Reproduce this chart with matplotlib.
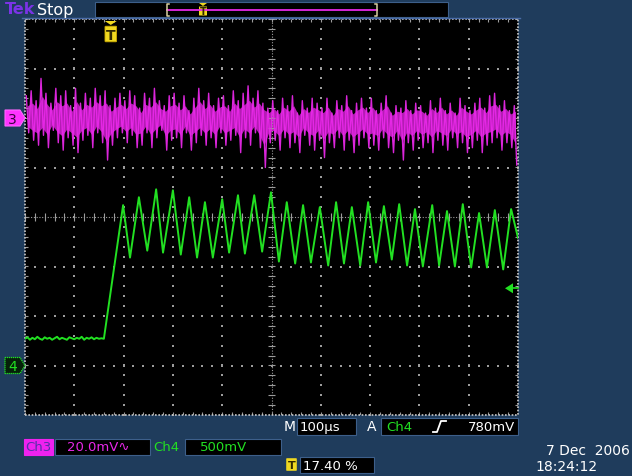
import numpy as np
import matplotlib.pyplot as plt
from matplotlib.patches import Rectangle, Polygon, FancyBboxPatch
from matplotlib.collections import LineCollection

# --- values ---
# time in us (100 us/div), Ch3 in mV (20 mV/div), Ch4 in V (500 mV/div)
ch3_t = np.arange(5, 1000, 10)
ch3_hi = [9, 11, 7, 16, 10, 6, 12, 9, 11, 5,
          12, 6, 10, 8, 12, 9, 11, 5, 8, 10,
          7, 11, 9, 4, 10, 8, 12, 7, 5, 9,
          10, 6, 9, 3, 8, 12, 7, 10, 5, 8,
          9, 5, 11, 7, 10, 13, 8, 11, 6, 4,
          7, 3, 8, 5, 9, 2, 7, 4, 8, 6,
          4, 8, 2, 7, 5, 9, 3, 6, 8, 4,
          8, 3, 6, 9, 2, 5, 4, 7, 3, 6,
          5, 2, 7, 4, 8, 3, 6, 2, 8, 5,
          3, 6, 8, 4, 9, 10, 5, 7, 3, 5]
ch3_lo = [-6, -9, -11, -7, -12, -5, -10, -13, -8, -11,
          -14, -9, -7, -12, -6, -10, -17, -11, -8, -6,
          -10, -7, -12, -11, -6, -12, -8, -5, -13, -9,
          -8, -12, -6, -13, -10, -7, -11, -8, -12, -6,
          -11, -9, -7, -14, -8, -11, -6, -12, -20, -10,
          -9, -13, -8, -12, -10, -14, -7, -11, -13, -9,
          -16, -10, -12, -8, -13, -9, -14, -11, -8, -12,
          -11, -13, -8, -12, -14, -9, -17, -10, -13, -9,
          -12, -10, -14, -9, -11, -13, -8, -12, -10, -14,
          -12, -9, -14, -11, -10, -8, -13, -10, -12, -19]

base_t = np.arange(0, 161, 5)
base_v = [0.27, 0.285, 0.26, 0.28, 0.265, 0.29, 0.27, 0.26, 0.285, 0.27,
          0.28, 0.26, 0.275, 0.29, 0.265, 0.28, 0.27, 0.26, 0.285, 0.275,
          0.265, 0.28, 0.27, 0.29, 0.26, 0.28, 0.27, 0.285, 0.265, 0.28,
          0.27, 0.275, 0.27]
peak_t = [199, 231, 266, 300, 333, 365, 400, 432, 465, 499, 531, 564, 598,
          631, 663, 696, 728, 759, 791, 826, 856, 888, 921, 953, 986]
peak_v = [1.62, 1.70, 1.78, 1.77, 1.70, 1.65, 1.68, 1.72, 1.72, 1.75, 1.65,
          1.62, 1.60, 1.65, 1.60, 1.65, 1.61, 1.63, 1.58, 1.62, 1.56, 1.63,
          1.54, 1.57, 1.58]
trough_t = [213, 248, 280, 316, 349, 381, 414, 446, 481, 515, 548, 580, 615,
            647, 680, 712, 744, 775, 807, 840, 872, 905, 937, 970, 1000]
trough_v = [1.09, 1.16, 1.14, 1.12, 1.09, 1.09, 1.14, 1.13, 1.15, 1.05, 1.03,
            1.04, 1.01, 1.03, 1.01, 1.04, 1.07, 1.01, 1.00, 1.01, 1.00, 0.99,
            0.99, 0.97, 1.29]

ch3_pos, ch3_scale = 2.0, 20.0     # div, mV/div
ch4_pos, ch4_scale = -3.0, 0.5     # div, V/div
trig_t, trig_level = 174.0, 0.78

BG = '#1f3c5c'
GRAY = '#9c9c9c'
MAG = '#e828e8'
GRN = '#22e022'

fig = plt.figure(figsize=(6.32, 4.77), dpi=100, facecolor=BG)

# screen: 25..518 px wide, 20..416 px high
L, T, W, H = 25, 20, 493, 396
ax = fig.add_axes([L / 632, 1 - (T + H) / 477, W / 632, H / 477])
ax.set_facecolor('black')
ax.set_xlim(0, 1000)
ax.set_ylim(-4, 4)
ax.set_xticks([])
ax.set_yticks([])
for s in ax.spines.values():
    s.set_visible(False)

# graticule
for k in range(1, 10):
    if k != 5:
        yy = np.arange(-4, 4.01, 0.2)
        ax.scatter(np.full(yy.size, 100 * k), yy, s=1.3, c=GRAY, marker='s', lw=0)
for j in range(-3, 4):
    if j != 0:
        xx = np.arange(0, 1001, 20)
        ax.scatter(xx, np.full(xx.size, j), s=1.3, c=GRAY, marker='s', lw=0)
ax.axvline(500, color=GRAY, lw=0.8, ls=(0, (1, 1.5)))
ax.axhline(0, color=GRAY, lw=0.8, ls=(0, (1, 1.5)))
segs = []
for y in np.arange(-4, 4.01, 0.2):
    segs.append([(492, y), (508, y)])
    segs.append([(0, y), (6, y)])
    segs.append([(994, y), (1000, y)])
for x in np.arange(0, 1001, 20):
    segs.append([(x, -0.08), (x, 0.08)])
    segs.append([(x, 4), (x, 3.94)])
    segs.append([(x, -4), (x, -3.94)])
ax.add_collection(LineCollection(segs, colors=GRAY, lw=0.8))
ax.plot([0, 1000, 1000, 0, 0], [-4, -4, 4, 4, -4], color='#c8c8c8', lw=1.2,
        ls=(0, (1, 1)), clip_on=False)

# Ch3 noise band: filled between highs and lows, zigzag on top
hi_div = [ch3_pos + v / ch3_scale for v in ch3_hi]
lo_div = [ch3_pos + v / ch3_scale for v in ch3_lo]
ax.fill_between(ch3_t, [0.55 * h + 0.45 * ch3_pos for h in hi_div],
                [0.55 * l + 0.45 * ch3_pos for l in lo_div],
                color='#b41cb4', lw=0)
zx, zy = [], []
for t, hi, lo in zip(ch3_t, hi_div, lo_div):
    zx += [t - 2.5, t + 2.5]
    zy += [hi, lo]
ax.plot(zx, zy, color=MAG, lw=1.0, alpha=0.95)

# Ch4 trace
osc = sorted(zip(list(peak_t) + list(trough_t), list(peak_v) + list(trough_v)))
c4t = list(base_t) + [p[0] for p in osc]
c4v = list(base_v) + [p[1] for p in osc]
ax.plot(c4t, [ch4_pos + v / ch4_scale for v in c4v], color=GRN, lw=1.4)


def py(div):
    return T + (4 - div) * H / 8


def px(t):
    return L + t / 1000 * W


# overlay in pixel coordinates
ov = fig.add_axes([0, 0, 1, 1])
ov.set_xlim(0, 632)
ov.set_ylim(477, 0)
ov.axis('off')


def box(x, y, w, h, fc='black', ec='#3d5f8a'):
    ov.add_patch(Rectangle((x, y), w, h, fc=fc, ec=ec, lw=0.8))


def txt(x, y, s, c='white', size=9.5, ha='left', **kw):
    ov.text(x, y, s, color=c, fontsize=size, ha=ha, va='center', **kw)


# top bar
txt(5, 10, 'Tek', c='#7b33e6', size=11.5, weight='bold')
txt(37, 10, 'Stop', size=11.5)
box(95, 3, 353, 15)
ov.plot([167, 377], [11, 11], color=MAG, lw=1.3)
ov.plot([169, 167, 167, 169], [5, 5, 17, 17], color='#d8d0a0', lw=1.1)
ov.plot([375, 377, 377, 375], [5, 5, 17, 17], color='#d8d0a0', lw=1.1)
ov.add_patch(Polygon([(199, 4), (207, 4), (203, 7)], fc='#f0d820', ec='none'))
ov.add_patch(FancyBboxPatch((199.5, 8), 7, 8, boxstyle='round,pad=0.5', fc='#f0d820', ec='none'))
txt(203, 12.3, 'T', c='#302800', size=7, ha='center', weight='bold')
ov.plot([22, 520], [19, 19], color='#4a6ca8', lw=1)

# trigger position marker
tx = px(trig_t)
ov.add_patch(Polygon([(tx - 6, 22), (tx + 6, 22), (tx, 26)], fc='#f0d820', ec='none'))
ov.add_patch(FancyBboxPatch((tx - 5, 28), 10, 14, boxstyle='round,pad=0.8', fc='#f0d820', ec='#c8a800', lw=0.6))
txt(tx, 35.5, 'T', c='#302800', size=10, ha='center', weight='bold')

# channel ground markers
y3 = py(ch3_pos)
ov.add_patch(Polygon([(5, y3 - 8), (20, y3 - 8), (25, y3), (20, y3 + 8), (5, y3 + 8)],
                     fc='#ff33ff', ec='#ff66ff', lw=0.8))
txt(12.5, y3 + 0.5, '3', c='#3a0040', size=10, ha='center')
y4 = py(ch4_pos)
ov.add_patch(Polygon([(5, y4 - 8), (20, y4 - 8), (25, y4), (20, y4 + 8), (5, y4 + 8)],
                     fc='#06200a', ec=GRN, lw=0.9, ls=(0, (1, 0.6))))
txt(12.5, y4 + 0.5, '4', c=GRN, size=10, ha='center')

# trigger level arrow
yt = py(ch4_pos + trig_level / ch4_scale)
ov.add_patch(Polygon([(505, yt), (513, yt - 5), (513, yt + 5)], fc=GRN, ec='none'))
ov.plot([513, 518], [yt, yt], color=GRN, lw=1.2)

# bottom readouts
txt(284, 427.5, 'M', size=10)
box(297, 419, 59, 17)
txt(300, 427.5, '100µs')
txt(367, 427.5, 'A', size=10)
box(381, 419, 137, 17)
txt(386, 427.5, 'Ch4', c=GRN)
ov.plot([433, 437, 441, 446], [433, 433, 422, 422], color='white', lw=1.3)
txt(515, 427.5, '780mV', ha='right')

box(24, 440, 29, 16, fc='#ee22ee', ec='#ee22ee')
txt(25, 448, 'Ch3', c='#5530a8')
box(55, 440, 95, 16)
txt(67, 448, '20.0mV∿', c=MAG)
txt(153, 448, 'Ch4', c=GRN)
box(185, 440, 96, 16)
txt(200, 448, '500mV', c=GRN)

ov.add_patch(FancyBboxPatch((287, 460), 9, 11, boxstyle='round,pad=0.8', fc='#f0d820', ec='none'))
txt(291.5, 466, 'T', c='#302800', size=8, ha='center', weight='bold')
box(300, 458, 74, 16)
txt(303, 466.5, '17.40 %')

txt(630, 451, '7 Dec  2006', size=10, ha='right')
txt(535, 467, '18:24:12', size=10)

fig.savefig('out.png', dpi=100)
